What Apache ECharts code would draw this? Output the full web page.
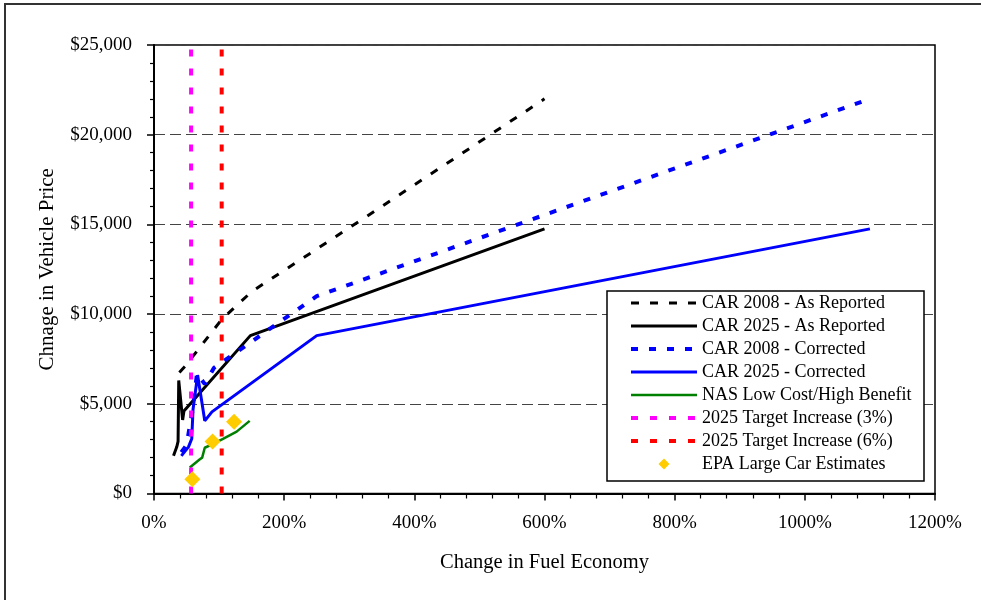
<!DOCTYPE html>
<html>
<head>
<meta charset="utf-8">
<script src="https://cdn.jsdelivr.net/npm/echarts@6/dist/echarts.min.js"></script>
<style>
html,body{margin:0;padding:0;background:#fff;}
#chart{width:981px;height:600px;}
</style>
</head>
<body>
<div id="chart"></div>
<script>
// ---- data (x = change in fuel economy %, y = change in vehicle price $) ----
var seriesNames = [
  'CAR 2008 - As Reported',
  'CAR 2025 - As Reported',
  'CAR 2008 - Corrected',
  'CAR 2025 - Corrected',
  'NAS Low Cost/High Benefit',
  '2025 Target Increase (3%)',
  '2025 Target Increase (6%)',
  'EPA Large Car Estimates'
];
var car2008RepX = [39, 48, 104, 150, 350, 600];
var car2008RepY = [6750, 7100, 9700, 11250, 16000, 22000];
var car2025RepX = [30, 35, 37, 38, 44, 46, 148, 600];
var car2025RepY = [2100, 2600, 2900, 6300, 4100, 4600, 8800, 14750];
var car2008CorX = [42, 50, 60, 66, 78, 92, 250, 1100];
var car2008CorY = [2300, 2700, 4800, 6700, 6100, 7000, 11000, 22000];
var car2025CorX = [42, 53, 58, 60, 67, 78, 89, 250, 1100];
var car2025CorY = [2100, 2600, 3050, 4700, 6600, 4050, 4550, 8800, 14750];
var nasX = [55, 70, 74, 78, 90, 106, 127, 147];
var nasY = [1450, 1900, 2000, 2550, 2750, 3050, 3450, 4050];
var target3X = [57, 57];
var target3Y = [0, 25000];
var target6X = [104, 104];
var target6Y = [0, 25000];
var epaX = [59, 90, 123];
var epaY = [800, 2900, 4000];
var xTicks = [0, 200, 400, 600, 800, 1000, 1200];
var yTicks = [0, 5000, 10000, 15000, 20000, 25000];

function pairs(xs, ys) { return xs.map(function (x, i) { return [x, ys[i]]; }); }

var FONT = '"Liberation Serif", "DejaVu Serif", serif';

var lineWidths = [3, 3, 4, 3, 2.5, 4, 4];

function lineSeries(name, xs, ys, color, width, type) {
  return {
    name: name, type: 'line', data: pairs(xs, ys),
    symbol: 'none', showSymbol: false, animation: false,
    lineStyle: { color: color, width: width, type: type, cap: 'butt' },
    itemStyle: { color: color },
    emphasis: { disabled: true }
  };
}

var legendData = seriesNames.map(function (n, i) {
  if (i === seriesNames.length - 1) {
    return { name: n, icon: 'path://M0,0 M66,11 M33,0 L38.5,5.5 L33,11 L27.5,5.5 Z', itemStyle: { opacity: 1 } };
  }
  return { name: n, itemStyle: { opacity: 0 }, lineStyle: { width: lineWidths[i] } };
});

var chart = echarts.init(document.getElementById('chart'), null, { renderer: 'canvas' });
chart.setOption({
  backgroundColor: '#fff',
  animation: false,
  grid: { left: 154, right: 46, top: 45, bottom: 106.5, show: true, borderColor: '#000', borderWidth: 1.5, backgroundColor: 'transparent' },
  xAxis: {
    type: 'value', min: xTicks[0], max: xTicks[xTicks.length - 1], interval: 200,
    name: 'Change in Fuel Economy', nameLocation: 'middle', nameGap: 59,
    nameTextStyle: { fontFamily: FONT, fontSize: 20.5, color: '#000' },
    axisLine: { show: true, onZero: false, lineStyle: { color: '#000', width: 2 } },
    axisTick: { show: true, inside: false, length: 7, lineStyle: { color: '#000', width: 1.5 } },
    minorTick: { show: true, splitNumber: 5, length: 5, lineStyle: { color: '#000', width: 1.2 } },
    axisLabel: { fontFamily: FONT, fontSize: 19, color: '#000', margin: 20, formatter: function (v) { return v + '%'; } },
    splitLine: { show: false }
  },
  yAxis: {
    type: 'value', min: yTicks[0], max: yTicks[yTicks.length - 1], interval: 5000,
    name: 'Chnage in Vehicle Price', nameLocation: 'middle', nameGap: 96,
    nameTextStyle: { fontFamily: FONT, fontSize: 21, color: '#000' },
    axisLine: { show: true, onZero: false, lineStyle: { color: '#000', width: 2 } },
    axisTick: { show: true, inside: false, length: 7, lineStyle: { color: '#000', width: 1.5 } },
    minorTick: { show: true, splitNumber: 5, length: 4, lineStyle: { color: '#000', width: 1.2 } },
    axisLabel: { fontFamily: FONT, fontSize: 19, color: '#000', margin: 22,
      formatter: function (v) { return '$' + v.toLocaleString('en-US'); } },
    splitLine: { show: true, lineStyle: { color: '#444', width: 1, type: [11, 5] } }
  },
  legend: {
    orient: 'vertical', left: 629, top: 294, padding: 0,
    itemWidth: 66, itemHeight: 11, itemGap: 5, z: 10,
    selectedMode: false,
    textStyle: { fontFamily: FONT, fontSize: 18, color: '#000', lineHeight: 18 },
    data: legendData
  },
  graphic: [
    { type: 'rect', z: 3, shape: { x: 5, y: 4, width: 1200, height: 800 }, style: { fill: null, stroke: '#333', lineWidth: 2 } },
    { type: 'rect', z: 3, shape: { x: 607, y: 291, width: 317, height: 190 }, style: { fill: '#fff', stroke: '#000', lineWidth: 1.5 } }
  ],
  series: [
    lineSeries(seriesNames[0], car2008RepX, car2008RepY, '#000000', lineWidths[0], [8, 11]),
    lineSeries(seriesNames[1], car2025RepX, car2025RepY, '#000000', lineWidths[1], 'solid'),
    lineSeries(seriesNames[2], car2008CorX, car2008CorY, '#0000FF', lineWidths[2], [7, 11]),
    lineSeries(seriesNames[3], car2025CorX, car2025CorY, '#0000FF', lineWidths[3], 'solid'),
    lineSeries(seriesNames[4], nasX, nasY, '#008000', lineWidths[4], 'solid'),
    lineSeries(seriesNames[5], target3X, target3Y, '#FF00FF', lineWidths[5], [7, 12]),
    lineSeries(seriesNames[6], target6X, target6Y, '#FF0000', lineWidths[6], [7, 12]),
    {
      name: seriesNames[7], type: 'scatter', data: pairs(epaX, epaY),
      symbol: 'diamond', symbolSize: 16, z: 5,
      itemStyle: { color: '#FFCC00', opacity: 1 },
      emphasis: { disabled: true }
    }
  ]
});
</script>
</body>
</html>
